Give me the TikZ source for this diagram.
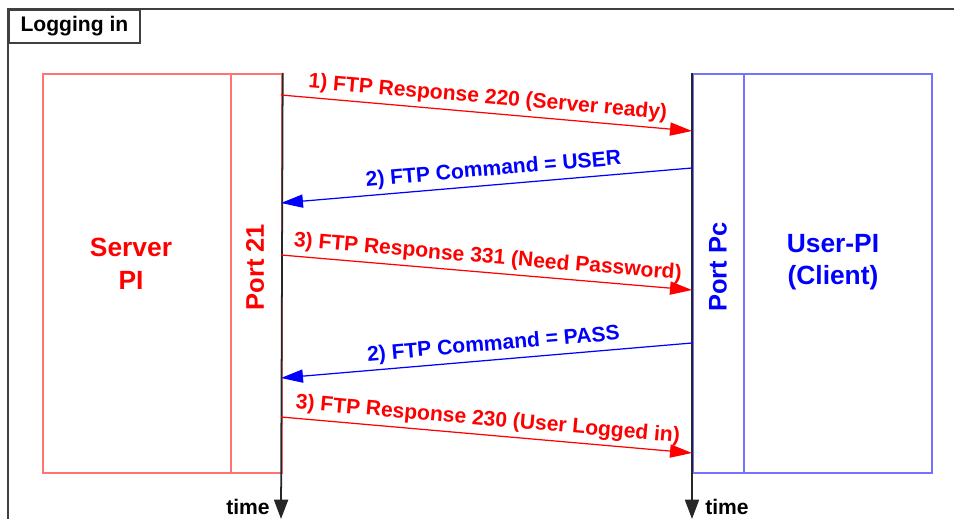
\documentclass[tikz,border=0pt]{standalone}
\usepackage{fontspec}
\setmainfont{Liberation Sans}
\usetikzlibrary{arrows.meta}
\definecolor{framegray}{RGB}{64,64,64}

\begin{document}
\begin{tikzpicture}[x=0.02cm,y=-0.02cm,
  frame/.style={draw=framegray,line width=1.1pt},
  srvbox/.style={draw=red!55,line width=1pt,anchor=north west,inner sep=0pt,minimum height=7.98cm},
  clibox/.style={draw=blue!55,line width=1pt,anchor=north west,inner sep=0pt,minimum height=7.98cm},
  bigtxt/.style={font=\bfseries\fontsize{15}{18.5}\selectfont,align=center},
  porttxt/.style={font=\bfseries\fontsize{14.5}{17}\selectfont,rotate=90},
  timetxt/.style={font=\bfseries\fontsize{12}{14}\selectfont,inner sep=0pt},
  timeln/.style={draw=black!85,line width=1pt,-{Triangle[length=11pt,width=8pt]}},
  msg/.style={line width=0.7pt,-{Triangle[length=12.5pt,width=7.5pt]}},
  lbl/.style={font=\bfseries\fontsize{12}{14}\selectfont,sloped,above,inner sep=2.5pt}]
  \useasboundingbox (0,0) rectangle (954,519);
  \draw[frame] (954,9) -- (8,9) -- (8,519);
  \node[frame,fill=white,anchor=north west,minimum width=2.62cm,minimum height=0.66cm,inner sep=0pt,
    font=\bfseries\fontsize{12}{14}\selectfont] (title) at (8,9) {Logging in};

  \node[srvbox,minimum width=3.76cm] (srv) at (42,73) {};
  \node[srvbox,minimum width=1.02cm] (p21) at (230,73) {};
  \node[clibox,minimum width=1.02cm] (ppc) at (692,73) {};
  \node[clibox,minimum width=3.76cm] (usr) at (743,73) {};
  \node[bigtxt,text=red] (srvlbl) at (131,264) {Server\\PI};
  \node[porttxt,text=red] (p21lbl) at (255,267) {Port 21};
  \node[porttxt,text=blue] (ppclbl) at (718,267) {Port Pc};
  \node[bigtxt,text=blue] (usrlbl) at (833,262) {User-PI\\(Client)};

  \coordinate (tend1) at (281,519);
  \coordinate (tend2) at (692,519);
  \draw[timeln] (p21.north east) -- (tend1);
  \draw[timeln] (ppc.north west) -- (tend2);
  \node[timetxt,anchor=east] (tm1) at (270,507) {time};
  \node[timetxt,anchor=west] (tm2) at (705,507) {time};

  \coordinate (s1) at (281,95);  \coordinate (c1) at (692,131);
  \coordinate (c2) at (692,168); \coordinate (s2) at (281,203);
  \coordinate (s3) at (281,255); \coordinate (c3) at (692,290);
  \coordinate (c4) at (692,343); \coordinate (s4) at (281,378);
  \coordinate (s5) at (281,417); \coordinate (c5) at (692,453);
  \path[msg]
    (s1) edge[red] node[lbl] {1) FTP Response 220 (Server ready)} (c1)
    (c2) edge[blue] node[lbl,pos=0.48] {2) FTP Command = USER} (s2)
    (s3) edge[red] node[lbl] {3) FTP Response 331 (Need Password)} (c3)
    (c4) edge[blue] node[lbl,pos=0.48] {2) FTP Command = PASS} (s4)
    (s5) edge[red] node[lbl] {3) FTP Response 230 (User Logged in)} (c5);
\end{tikzpicture}
\end{document}
